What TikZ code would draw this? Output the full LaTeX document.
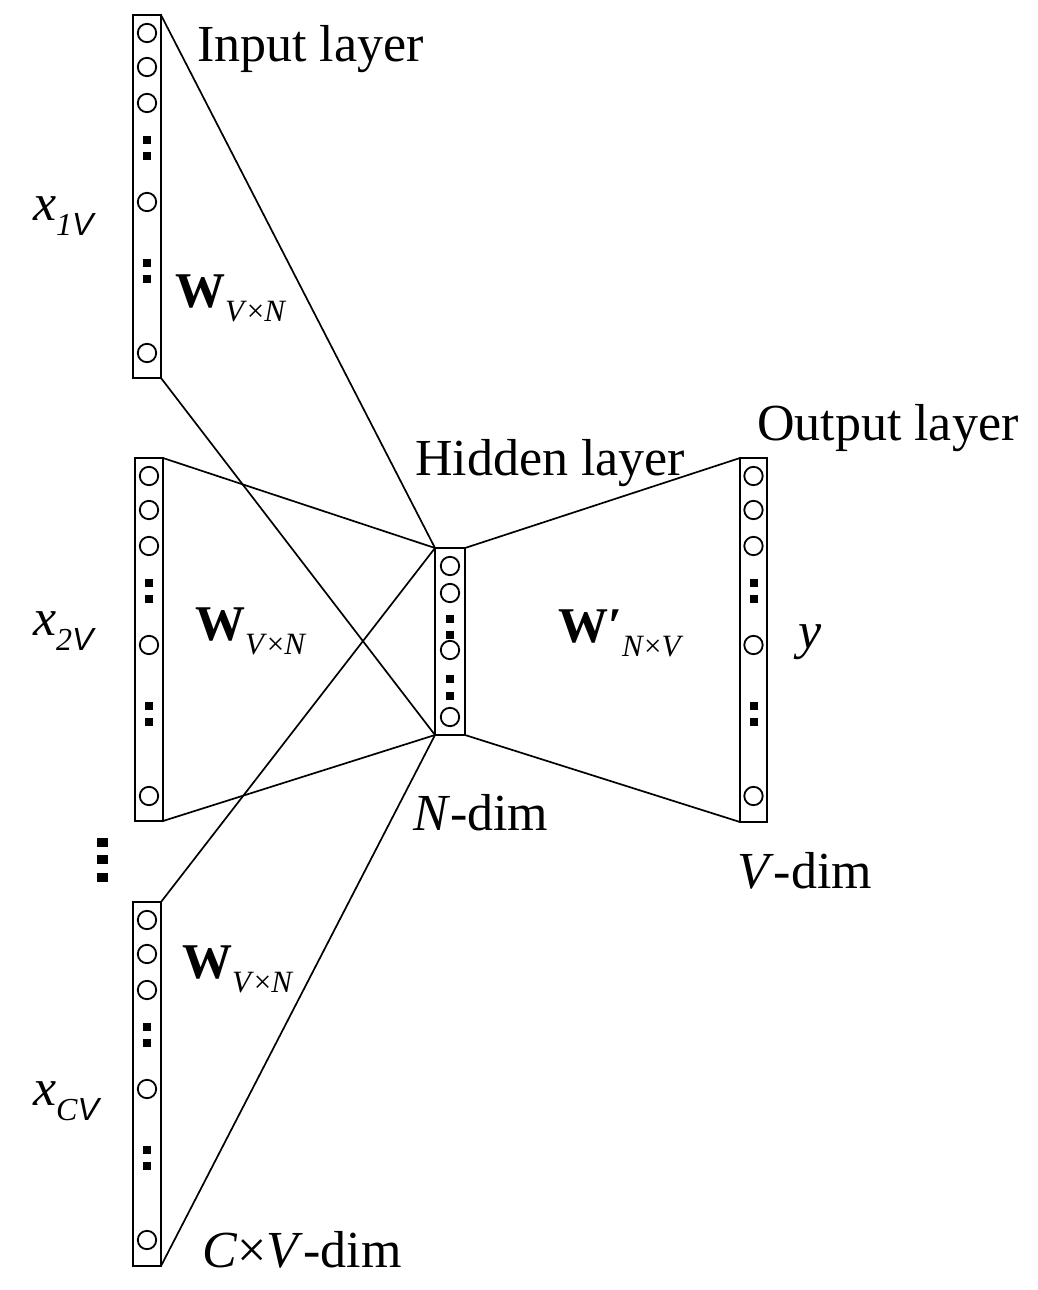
\documentclass[tikz,border=0pt]{standalone}
\usepackage{fontspec}
\setmainfont{Liberation Serif}
\newfontfamily\subsans{Liberation Sans}
\newcommand\neuronc[2]{\draw[line width=1.8pt] (#1,#2) circle[radius=9.2pt];}
\newcommand\dotsq[2]{\fill ({#1-4},{#2-4}) rectangle ++(8,8);}
\newcommand\colcontent[2]{%
  \foreach \dy in {18,52,88,187,338} {\neuronc{#1}{#2+\dy}}
  \foreach \dy in {125,141,248,264} {\dotsq{#1}{#2+\dy}}}
\newcommand\xsub[1]{\textit{x}\raisebox{-15pt}{\fontsize{32}{32}\selectfont\textit{#1}{\subsans\itshape V}}}
\newcommand\wsub[2]{\textbf{W}#1\raisebox{-14pt}{\fontsize{31}{31}\selectfont #2}}
\begin{document}
\begin{tikzpicture}[x=1pt,y=-1pt,
  layerbox/.style={draw, line width=1.8pt, inner sep=0pt, outer sep=0pt},
  conn/.style={line width=1.7pt},
  lbl/.style={inner sep=0pt, outer sep=0pt, anchor=base west, font=\fontsize{52}{60}\selectfont},
  wlbl/.style={inner sep=0pt, outer sep=0pt, anchor=base west, font=\fontsize{50}{60}\selectfont}]
\useasboundingbox (0,0) rectangle (1037,1290);
\fill[white] (0,0) rectangle (1037,1290);

% layer boxes
\node[layerbox, minimum width=28pt, minimum height=363pt] (in1) at (147,196.5) {};
\node[layerbox, minimum width=28pt, minimum height=363pt] (in2) at (149,639.5) {};
\node[layerbox, minimum width=28pt, minimum height=364pt] (in3) at (147,1084) {};
\node[layerbox, minimum width=30pt, minimum height=187pt] (hid) at (450,641.5) {};
\node[layerbox, minimum width=27pt, minimum height=364pt] (out) at (753.5,640) {};

% connectors
\draw[conn] (in1.north east) -- (hid.north west);
\draw[conn] (in1.south east) -- (hid.south west);
\draw[conn] (in2.north east) -- (hid.north west);
\draw[conn] (in2.south east) -- (hid.south west);
\draw[conn] (in3.north east) -- (hid.north west);
\draw[conn] (in3.south east) -- (hid.south west);
\draw[conn] (hid.north east) -- (out.north west);
\draw[conn] (hid.south east) -- (out.south west);

% neurons
\colcontent{147}{15}
\colcontent{149}{458}
\colcontent{147}{902}
\colcontent{753.5}{458}
\foreach \yy in {566,593,650,717} {\neuronc{450}{\yy}}
\foreach \yy in {619,635,679,696} {\dotsq{450}{\yy}}

% vertical dots between input groups
\foreach \yy in {842,859,877} {\fill (96.5,\yy-4.5) rectangle ++(11,9);}

% labels
\node[lbl] (tin) at (197,62) {Input layer};
\node[lbl] (thid) at (415,475) {Hidden layer};
\node[lbl] (tout) at (757,440) {Output layer};
\node[lbl] (tndim) at (413,830) {\textit{N}-dim};
\node[lbl] (tvdim) at (737,888) {\textit{V}-dim};
\node[lbl] (tcvdim) at (202,1267) {\textit{C}×\textit{V}-dim};
\node[lbl] (ty) at (798,648) {\textit{y}};
\node[lbl] (x1) at (33,220) {\xsub{1}};
\node[lbl] (x2) at (33,635) {\xsub{2}};
\node[lbl] (xc) at (33,1105) {\xsub{C}};
\node[wlbl] (w1) at (175,307) {\wsub{}{\textit{V}×\textit{N}}};
\node[wlbl] (w2) at (195,640) {\wsub{}{\textit{V}×\textit{N}}};
\node[wlbl] (w3) at (182,978) {\wsub{}{\textit{V}×\textit{N}}};
\node[wlbl] (wp) at (558,642) {\wsub{\textbf{′}}{\textit{N}×\textit{V}}};
\end{tikzpicture}
\end{document}
